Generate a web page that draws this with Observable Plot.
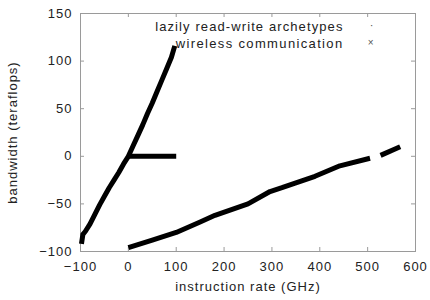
<!DOCTYPE html>
<html>
<head>
<meta charset="utf-8">
<script src="https://cdn.jsdelivr.net/npm/d3@7"></script>
<script src="https://cdn.jsdelivr.net/npm/@observablehq/plot@0.6"></script>
<style>
  html, body { margin: 0; padding: 0; background: #fff; }
  svg { display: block; }
  svg text { letter-spacing: 1px; }
</style>
</head>
<body>
<div id="chart"></div>
<script>
// Series 1: "lazily read-write archetypes" (steep band + flat segment)
const archX = [-98, -95, -90, -80, -70, -60, -50, -40, -30, -20, -10, 0, 10, 20, 30, 40, 50, 60, 70, 80, 90, 97];
const archY = [-92, -82, -79, -71, -61, -51, -42, -33, -25, -17, -8, 0, 11, 22, 33, 45, 56, 68, 80, 92, 104, 116];
const flatX = [0, 100];
const flatY = [0, 0];
// Series 2: "wireless communication" (two runs with a gap)
const wireX1 = [0, 50, 100, 150, 181, 250, 296, 321, 390, 442, 505];
const wireY1 = [-96, -88, -80, -69, -62, -50, -37, -33, -21, -10, -2];
const wireX2 = [527, 568];
const wireY2 = [1, 10];

const xTicks = [-100, 0, 100, 200, 300, 400, 500, 600];
const yTicks = [-100, -50, 0, 50, 100, 150];
const legendLabels = ["lazily read-write archetypes", "wireless communication"];
const legendSymbols = ["·", "×"];

const toRows = (xs, ys, z) => xs.map((x, i) => ({x, y: ys[i], z}));
const rows = [
  ...toRows(archX, archY, "a"),
  ...toRows(flatX, flatY, "b"),
  ...toRows(wireX1, wireY1, "c"),
  ...toRows(wireX2, wireY2, "d")
];

const font = "'Liberation Sans', Arial, sans-serif";
const ink = "#222";
const frameColor = "#9a9a9a";
const W = 430, H = 300, ML = 80, MR = 15, MT = 13, MB = 49;
const fw = W - ML - MR, fh = H - MT - MB, tk = 4;

const chart = Plot.plot({
  width: W,
  height: H,
  marginLeft: ML,
  marginRight: MR,
  marginTop: MT,
  marginBottom: MB,
  style: {fontFamily: font, background: "#fff"},
  x: {domain: [-100, 600]},
  y: {domain: [-100, 150]},
  marks: [
    // inward ticks on all four sides
    Plot.tickX(xTicks, {x: d => d, insetTop: fh - tk, stroke: frameColor}),
    Plot.tickX(xTicks, {x: d => d, insetBottom: fh - tk, stroke: frameColor}),
    Plot.tickY(yTicks, {y: d => d, insetRight: fw - tk, stroke: frameColor}),
    Plot.tickY(yTicks, {y: d => d, insetLeft: fw - tk, stroke: frameColor}),
    Plot.frame({stroke: frameColor}),
    // tick labels
    Plot.axisX(xTicks, {anchor: "bottom", tickSize: 0, tickPadding: 10, fontSize: 13, fill: ink, label: null}),
    Plot.axisY(yTicks, {anchor: "left", tickSize: 0, tickPadding: 8, fontSize: 13, fill: ink, label: null}),
    // axis titles
    Plot.text(["instruction rate (GHz)"], {frameAnchor: "bottom", dy: 39, fontSize: 13, fill: ink}),
    Plot.text(["bandwidth (teraflops)"], {frameAnchor: "left", textAnchor: "middle", dx: -68, rotate: -90, fontSize: 13, fill: ink}),
    // data
    Plot.line(rows, {x: "x", y: "y", z: "z", stroke: "#000", strokeWidth: 5, strokeLinecap: "butt"}),
    // legend
    Plot.text([legendLabels[0]], {frameAnchor: "top-right", textAnchor: "end", dx: -72, dy: 8, fontSize: 13, fill: ink}),
    Plot.text([legendLabels[1]], {frameAnchor: "top-right", textAnchor: "end", dx: -72, dy: 25, fontSize: 13, fill: ink}),
    Plot.text([legendSymbols[0]], {frameAnchor: "top-right", dx: -41, dy: 8, fontSize: 11, fill: "#555"}),
    Plot.text([legendSymbols[1]], {frameAnchor: "top-right", dx: -41, dy: 25, fontSize: 10, fill: "#555"})
  ]
});
d3.select(chart).selectAll("text")
  .filter(function() { return this.textContent === legendLabels[0]; })
  .style("letter-spacing", "1.1px");
d3.select(chart).selectAll("text")
  .filter(function() { return this.textContent === legendLabels[1]; })
  .style("letter-spacing", "1.35px");
document.getElementById("chart").appendChild(chart);
</script>
</body>
</html>
